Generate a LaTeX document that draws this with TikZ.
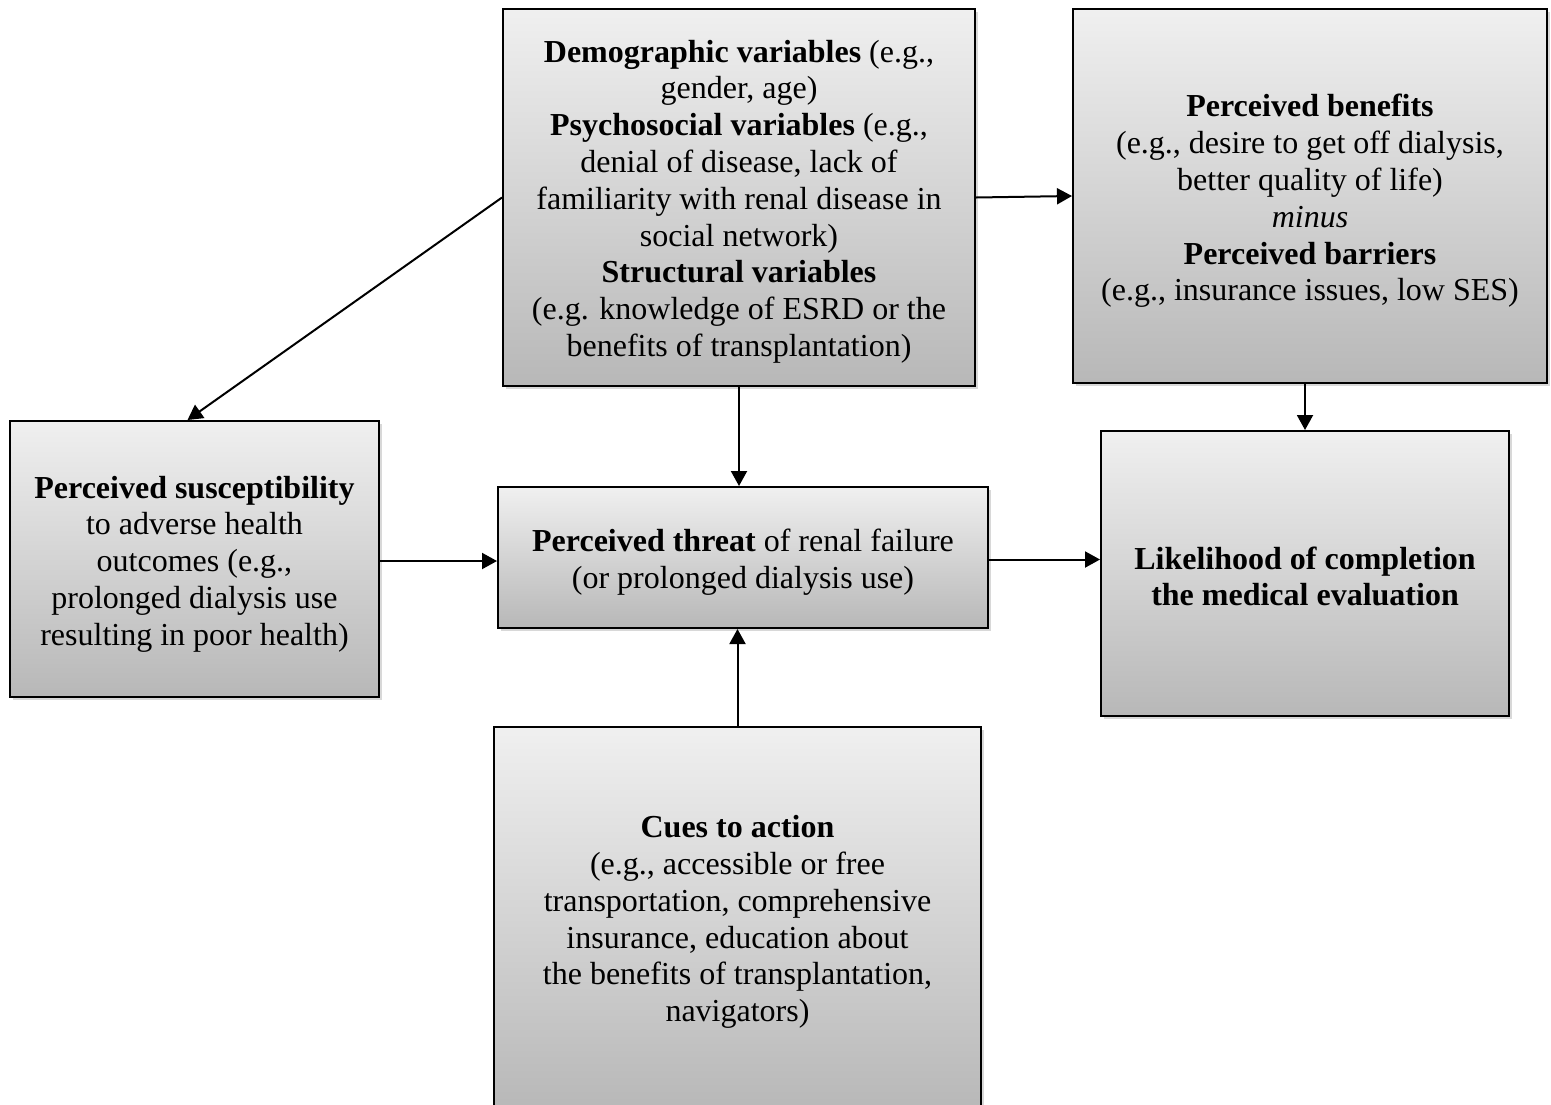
\documentclass[tikz,border=0pt]{standalone}
\usepackage{fontspec}
\setmainfont{Liberation Serif}
\usetikzlibrary{arrows.meta,shadows}
\begin{document}
\begin{tikzpicture}[x=0.5pt,y=-0.5pt,
  box/.style={draw=black, line width=1pt, rectangle, inner sep=0pt,
    top color=gray!12, bottom color=gray!56,
    drop shadow={shadow xshift=1.5pt, shadow yshift=-1.5pt, opacity=0.3, fill=gray}},
  txt/.style={inner sep=0pt, align=center, font=\fontsize{16}{18.4}\selectfont},
  conn/.style={line width=1pt, -{Triangle[length=7.5pt,width=8pt]}}]
\useasboundingbox (0,0) rectangle (1551,1104);
\fill[white] (0,0) rectangle (1551,1104);

\node[box, minimum width=236pt, minimum height=188.5pt] (top) at (739,197.5) {};
\node[txt] (toptext) at ([yshift=-2pt]top.center)
 {\textbf{Demographic variables} (e.g.,\\ gender, age)\\
  \textbf{Psychosocial variables} (e.g.,\\ denial of disease, lack of\\
  familiarity with renal disease in\\ social network)\\
  \textbf{Structural variables}\\ (e.g. knowledge of ESRD or the\\
  benefits of transplantation)};

\node[box, minimum width=237pt, minimum height=187pt] (tr) at (1310,196) {};
\node[txt] (trtext) at ([yshift=-2.5pt]tr.center)
 {\textbf{Perceived benefits}\\ (e.g., desire to get off dialysis,\\
  better quality of life)\\ \textit{minus}\\ \textbf{Perceived barriers}\\
  (e.g., insurance issues, low SES)};

\node[box, minimum width=184.5pt, minimum height=138pt] (left) at (194.5,559) {};
\node[txt] (lefttext) at ([yshift=-2.5pt]left.center)
 {\textbf{Perceived susceptibility}\\ to adverse health\\ outcomes (e.g.,\\
  prolonged dialysis use\\ resulting in poor health)};

\node[box, minimum width=245pt, minimum height=70.5pt] (center) at (743,557.5) {};
\node[txt] (centertext) at ([yshift=-2.5pt]center.center)
 {\textbf{Perceived threat} of renal failure\\ (or prolonged dialysis use)};

\node[box, minimum width=204pt, minimum height=142.5pt] (right) at (1305,573.5) {};
\node[txt] (righttext) at ([yshift=-1.5pt]right.center)
 {\textbf{Likelihood of completion}\\ \textbf{the medical evaluation}};

\node[box, minimum width=243.5pt, minimum height=192pt] (bottom) at (737.5,919) {};
\node[txt] (bottomtext) at ([yshift=-1.5pt]bottom.center)
 {\textbf{Cues to action}\\ (e.g., accessible or free\\ transportation, comprehensive\\
  insurance, education about\\ the benefits of transplantation,\\ navigators)};

\draw[conn] (top.west) -- ([xshift=-3.5pt]left.north);
\draw[conn] (top.east) -- (tr.west);
\draw[conn] (top.south) -- (top.south |- center.north);
\draw[conn] ([yshift=-1pt]left.east) -- ([yshift=-1pt]left.east -| center.west);
\draw[conn] ([yshift=-1pt]center.east) -- ([yshift=-1pt]center.east -| right.west);
\draw[conn] (right.north |- tr.south) -- (right.north);
\draw[conn] (bottom.north) -- (bottom.north |- center.south);
\end{tikzpicture}
\end{document}
